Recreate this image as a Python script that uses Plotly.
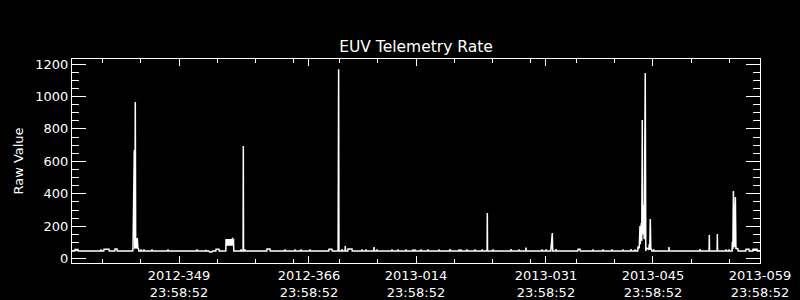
import pandas as pd
import plotly.graph_objects as go

# ---- data: time offsets in days from 2012-335 23:58:52 and raw telemetry rate ----
start_time = "2012-11-30 23:58:52"

day = [
    0.00, 0.36, 0.39, 0.78, 0.81,
    3.76, 3.79, 3.82,
    4.16, 4.19, 4.45, 4.84, 4.87,
    5.60, 5.63, 5.89, 5.92,
    7.95, 7.98, 8.15, 8.21, 8.28, 8.33, 8.37, 8.48, 8.54, 8.62, 8.70, 8.73,
    9.00, 9.03, 9.06, 9.39, 9.42, 9.45,
    10.44, 10.47, 10.50, 12.53, 12.56, 12.59,
    16.32, 16.35, 16.38, 17.50, 17.53, 17.56,
    17.90, 18.00, 18.30, 18.40,
    18.81, 18.84, 19.23, 19.26,
    20.12, 20.15, 20.21, 20.27, 20.33, 20.39, 20.45, 20.51, 20.57, 20.63,
    20.69, 20.75, 20.81, 20.87, 20.93, 20.99, 21.02, 21.08, 21.13, 21.16,
    22.08, 22.11, 22.14, 22.38, 22.41, 22.44, 22.60, 22.63, 22.66,
    25.48, 25.51, 25.90, 25.93,
    27.84, 27.87, 27.90, 29.14, 29.17, 29.20, 29.93, 29.96, 29.99,
    31.11, 31.14, 31.17, 33.59, 33.62, 34.01, 34.04,
    34.81, 34.84, 34.88, 34.92,
    35.29, 35.32, 35.35, 35.72, 35.75, 35.78, 36.08, 36.11, 36.63, 36.66,
    37.91, 37.94, 37.97, 38.43, 38.46, 38.49, 39.48, 39.51, 39.54, 39.87, 39.90, 39.93,
    41.83, 41.86, 41.89, 42.62, 42.65, 42.68, 43.66, 43.69, 43.72,
    44.58, 44.61, 44.64, 44.84, 44.87, 44.90, 45.63, 45.66, 45.69, 46.54, 46.57, 46.60,
    47.98, 48.01, 48.04, 49.42, 49.45, 49.48, 50.60, 50.63, 50.66, 50.86, 50.89, 50.92,
    51.64, 51.67, 51.70, 52.69, 52.72, 52.75, 53.61, 53.64, 53.67,
    54.30, 54.33, 54.36, 55.05, 55.08, 55.11,
    57.40, 57.43, 57.46, 58.45, 58.48, 58.51, 59.36, 59.39, 59.42,
    61.46, 61.49, 61.52, 61.98, 62.01, 62.04, 62.63, 62.66, 62.70, 62.83, 62.88, 63.29, 63.32, 63.35,
    66.17, 66.20, 66.46, 66.49, 68.13, 68.16, 68.19, 69.44, 69.47, 69.50, 70.61, 70.64, 70.67,
    72.05, 72.08, 72.11, 73.10, 73.13, 73.16, 73.62, 73.65, 73.68,
    74.00, 74.04, 74.20, 74.30, 74.34, 74.39, 74.43, 74.47, 74.53, 74.60, 74.66, 74.73,
    74.86, 74.99, 75.06, 75.15, 75.35, 75.45, 75.52, 75.58, 75.65, 75.72, 75.80, 75.84,
    76.08, 76.11, 76.14, 78.06, 78.09, 78.12, 82.12, 82.15, 82.18,
    83.34, 83.37, 83.40, 84.39, 84.42, 84.45,
    85.53, 85.56, 85.59, 85.92, 85.95, 85.98,
    86.35, 86.38, 86.45, 86.52, 86.65, 86.78, 86.85, 86.93, 87.12, 87.15,
    88.14, 88.17, 88.56, 88.59, 89.06, 89.09, 89.62, 89.65, 90.00,
]

rate = [
    48, 48, 56, 56, 48,
    48, 58, 48,
    48, 58, 58, 58, 48,
    48, 60, 60, 48,
    48, 62, 670, 62, 966, 64, 70, 64, 128, 64, 62, 48,
    48, 58, 48, 48, 58, 48,
    48, 58, 48, 48, 58, 48,
    48, 58, 48, 48, 55, 48,
    48, 42, 42, 48,
    48, 58, 58, 48,
    48, 121, 80, 121, 80, 121, 80, 121, 80, 121,
    80, 121, 80, 121, 80, 121, 129, 80, 121, 48,
    48, 58, 48, 48, 694, 48, 48, 58, 48,
    48, 60, 60, 48,
    48, 58, 48, 48, 58, 48, 48, 58, 48,
    48, 58, 48, 48, 58, 58, 48,
    48, 1160, 1168, 48,
    48, 60, 48, 48, 78, 48, 48, 60, 60, 48,
    48, 58, 48, 48, 58, 48, 48, 72, 48, 48, 58, 48,
    48, 58, 48, 48, 58, 48, 48, 58, 48,
    48, 58, 48, 48, 58, 48, 48, 58, 48, 48, 58, 48,
    48, 58, 48, 48, 60, 48, 48, 58, 48, 48, 58, 48,
    48, 58, 48, 48, 58, 48, 48, 58, 48,
    48, 282, 48, 48, 58, 48,
    48, 60, 48, 48, 58, 48, 48, 68, 48,
    48, 58, 48, 48, 58, 48, 48, 78, 62, 158, 48, 48, 60, 48,
    48, 58, 58, 48, 48, 58, 48, 48, 58, 48, 48, 58, 48,
    48, 58, 48, 48, 60, 48, 48, 58, 48,
    48, 70, 65, 202, 90, 214, 100, 220, 110, 855, 150, 331,
    120, 1144, 48, 65, 62, 55, 90, 55, 245, 55, 60, 48,
    48, 58, 48, 48, 72, 48, 48, 60, 48,
    48, 146, 48, 48, 152, 48,
    48, 58, 48, 48, 58, 48,
    48, 103, 60, 417, 70, 380, 60, 65, 60, 48,
    48, 58, 58, 48, 48, 58, 58, 48, 48,
]

# ---- axis ticks ----
x_range = ["2012-11-30 23:58:52", "2013-02-28 23:58:52"]
major_dates = ["2012-12-14 23:58:52", "2012-12-31 23:58:52", "2013-01-14 23:58:52",
               "2013-01-31 23:58:52", "2013-02-14 23:58:52", "2013-02-28 23:58:52"]
major_labels = ["2012-349<br>23:58:52", "2012-366<br>23:58:52", "2013-014<br>23:58:52",
                "2013-031<br>23:58:52", "2013-045<br>23:58:52", "2013-059<br>23:58:52"]
minor_dates = ["2012-12-04 23:58:52", "2012-12-09 23:58:52", "2012-12-19 23:58:52",
               "2012-12-24 23:58:52", "2012-12-29 23:58:52", "2013-01-04 23:58:52",
               "2013-01-09 23:58:52", "2013-01-19 23:58:52", "2013-01-24 23:58:52",
               "2013-01-29 23:58:52", "2013-02-04 23:58:52", "2013-02-09 23:58:52",
               "2013-02-19 23:58:52", "2013-02-24 23:58:52"]
y_ticks = [0, 200, 400, 600, 800, 1000, 1200]

times = pd.Timestamp(start_time) + pd.to_timedelta(day, unit="D")

FONT = "DejaVu Sans"

fig = go.Figure(go.Scatter(x=times, y=rate, mode="lines",
                           line=dict(color="white", width=1.5), hoverinfo="skip"))

fig.update_layout(
    width=800, height=300,
    margin=dict(l=72, r=40, t=59, b=37),
    paper_bgcolor="black", plot_bgcolor="black",
    showlegend=False,
    font=dict(family=FONT, color="white", size=13),
    title=dict(text="EUV Telemetry Rate", x=0.5, xref="paper", y=(300 - 47) / 300,
               yref="container", xanchor="center", yanchor="middle",
               font=dict(family=FONT, size=15.5, color="white")),
)

fig.update_xaxes(
    type="date", range=x_range, automargin=False,
    showline=True, linecolor="white", linewidth=1, mirror="ticks",
    showgrid=False, zeroline=False,
    tickmode="array", tickvals=major_dates, ticktext=major_labels,
    ticks="inside", ticklen=7, tickcolor="white", tickwidth=1,
    tickfont=dict(family=FONT, size=13, color="white"),
    minor=dict(tickmode="array", tickvals=minor_dates, ticks="inside",
               ticklen=4, tickcolor="white", tickwidth=1, showgrid=False),
)

fig.update_yaxes(
    range=[-26.5, 1231], automargin=False,
    showline=True, linecolor="white", linewidth=1, mirror="ticks",
    showgrid=False, zeroline=False,
    tickmode="array", tickvals=y_ticks,
    ticks="inside", ticklen=14, tickcolor="white", tickwidth=1,
    tickfont=dict(family=FONT, size=13, color="white"),
    minor=dict(dtick=50, tick0=0, ticks="inside", ticklen=7,
               tickcolor="white", tickwidth=1, showgrid=False),
    title=dict(text="Raw Value", font=dict(family=FONT, size=13, color="white"), standoff=8),
)

fig.write_html("out.html")
